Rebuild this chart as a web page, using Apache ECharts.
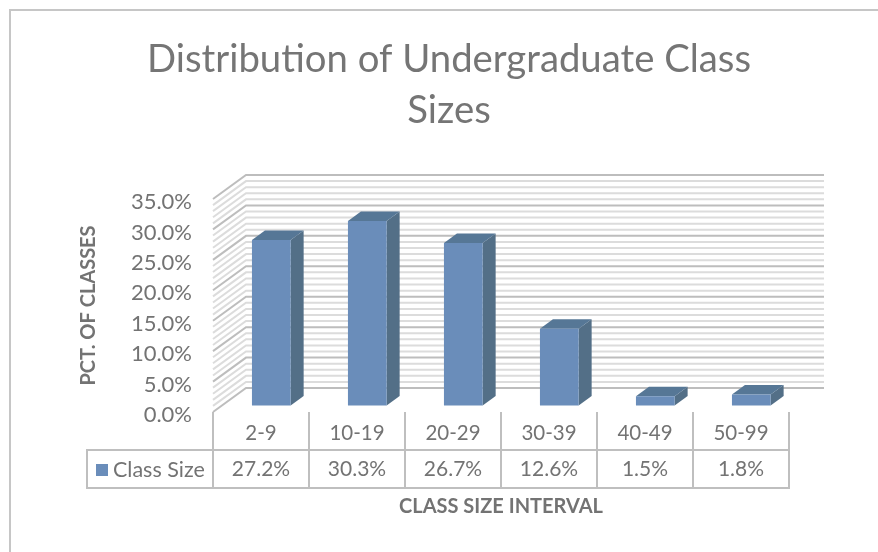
<!DOCTYPE html>
<html>
<head>
<meta charset="utf-8">
<style>html,body{margin:0;padding:0;background:#fff}#c{width:878px;height:552px}</style>
<script src="https://cdn.jsdelivr.net/npm/echarts@6/dist/echarts.min.js"></script>
</head>
<body>
<div id="c"></div>
<script>
const categories = ['2-9', '10-19', '20-29', '30-39', '40-49', '50-99'];
const classSize = [27.2, 30.3, 26.7, 12.6, 1.5, 1.8];
const wallMajor = [0, 5, 10, 15, 20, 25, 30, 35];
const wallMinor = [1,2,3,4,6,7,8,9,11,12,13,14,16,17,18,19,21,22,23,24,26,27,28,29,31,32,33,34];

const FONT = 'Lato, "Open Sans", sans-serif';
const TEXT = '#737373';
const LINE = '#bfbfbf';
const DEPTH = [33, -24];      // wall depth in pixels
const WALL_EXTRA = 2;
const BAR_FRONT = [10.3, -6.5]; // bar front face offset into the depth
const BAR_DEPTH = [13, -9.5];
const BAR_W = 38.7;
const ROW_TOP = 38, ROW_H = 38, KEY_W = 126;

function wallItem(color, width) {
  return function (params, api) {
    const c = api.coord([0, api.value(1)]);
    const band = api.size([1, 0])[0];
    const left = c[0] - band / 2;
    const right = left + band * categories.length + WALL_EXTRA;
    return {
      type: 'polyline', silent: true,
      shape: { points: [[left, c[1]], [left + DEPTH[0], c[1] + DEPTH[1]], [right + DEPTH[0], c[1] + DEPTH[1]]] },
      style: { stroke: color, lineWidth: width, fill: null }
    };
  };
}
function barItem(params, api) {
  const c = api.coord([api.value(0), api.value(1)]);
  const z = api.coord([api.value(0), 0]);
  const x0 = c[0] + BAR_FRONT[0] - BAR_W / 2, x1 = x0 + BAR_W;
  const yt = c[1] + BAR_FRONT[1], yb = z[1] + BAR_FRONT[1];
  const dx = BAR_DEPTH[0], dy = BAR_DEPTH[1];
  return {
    type: 'group',
    children: [
      { type: 'polygon', shape: { points: [[x1, yt], [x1 + dx, yt + dy], [x1 + dx, yb + dy], [x1, yb]] }, style: { fill: '#536f87' } },
      { type: 'polygon', shape: { points: [[x0, yt], [x0 + dx, yt + dy], [x1 + dx, yt + dy], [x1, yt]] }, style: { fill: '#567796' } },
      { type: 'rect', shape: { x: x0, y: yt, width: BAR_W, height: yb - yt }, style: { fill: '#6a8dba' } }
    ]
  };
}
function tableItem(params, api) {
  const i = api.value(0);
  const z = api.coord([i, 0]);
  const band = api.size([1, 0])[0];
  const x0 = z[0] - band / 2, y0 = z[1] + ROW_TOP;
  const children = [
    { type: 'rect', shape: { x: x0, y: y0, width: band, height: ROW_H }, style: { fill: '#fff', stroke: LINE, lineWidth: 2 } },
    { type: 'text', style: { x: z[0], y: y0 + ROW_H / 2, text: api.value(1).toFixed(1) + '%', textAlign: 'center', textVerticalAlign: 'middle', font: '21px ' + FONT, fill: TEXT } }
  ];
  if (i === 0) {
    children.unshift({ type: 'rect', shape: { x: x0 - KEY_W, y: y0, width: KEY_W, height: ROW_H }, style: { fill: '#fff', stroke: LINE, lineWidth: 2 } });
  }
  return { type: 'group', children };
}

const chart = echarts.init(document.getElementById('c'), null, { renderer: 'canvas' });
chart.setOption({
  animation: false,
  backgroundColor: '#fff',
  title: {
    text: 'Distribution of Undergraduate Class\nSizes',
    left: 444, top: 29, textAlign: 'center',
    textStyle: { fontFamily: FONT, fontSize: 38.3, fontWeight: 'normal', color: '#757575', lineHeight: 51 }
  },
  graphic: [{
    type: 'polyline', silent: true,
    shape: { points: [[10, 552], [10, 10], [878, 10]] },
    style: { stroke: '#c6c6c6', lineWidth: 2, fill: null }
  }],
  legend: {
    data: ['Class Size'], left: 91, top: 454, itemWidth: 12, itemHeight: 12, icon: 'rect',
    selectedMode: false,
    textStyle: { fontFamily: FONT, fontSize: 21.5, color: TEXT }
  },
  grid: { left: 213, top: 199, width: 576, height: 213 },
  xAxis: {
    type: 'category', data: categories,
    axisLine: { show: false },
    axisTick: { show: true, length: 38, lineStyle: { color: LINE, width: 2 } },
    axisLabel: { margin: 11, fontFamily: FONT, fontSize: 20.5, color: TEXT },
    name: 'CLASS SIZE INTERVAL', nameLocation: 'middle', nameGap: 85,
    nameTextStyle: { fontFamily: FONT, fontSize: 20, fontWeight: 'bold', color: TEXT }
  },
  yAxis: {
    type: 'value', min: 0, max: 35, interval: 5,
    axisLine: { show: false }, axisTick: { show: false }, splitLine: { show: false },
    axisLabel: { margin: 21, fontFamily: FONT, fontSize: 22, color: TEXT, verticalAlign: 'top', lineHeight: 6, formatter: v => v.toFixed(1) + '%' },
    name: 'PCT. OF CLASSES', nameLocation: 'middle', nameGap: 114, nameRotate: 90,
    nameTextStyle: { fontFamily: FONT, fontSize: 20, fontWeight: 'bold', color: TEXT }
  },
  series: [
    { type: 'custom', name: 'wallMinor', z: 1, silent: true, renderItem: wallItem('#dcdcdc', 2),
      data: wallMinor.map(v => [0, v]), encode: { x: 0, y: 1 } },
    { type: 'custom', name: 'wallMajor', z: 2, silent: true, renderItem: wallItem('#bdbdbd', 2),
      data: wallMajor.map(v => [0, v]), encode: { x: 0, y: 1 } },
    { type: 'custom', name: 'Class Size', z: 3, renderItem: barItem, itemStyle: { color: '#6a8dba' },
      data: classSize.map((v, i) => [i, v]), encode: { x: 0, y: 1 } },
    { type: 'custom', name: 'table', z: 1, silent: true, renderItem: tableItem,
      data: classSize.map((v, i) => [i, v]), encode: { x: 0, y: 1 } }
  ]
});
</script>
</body>
</html>
